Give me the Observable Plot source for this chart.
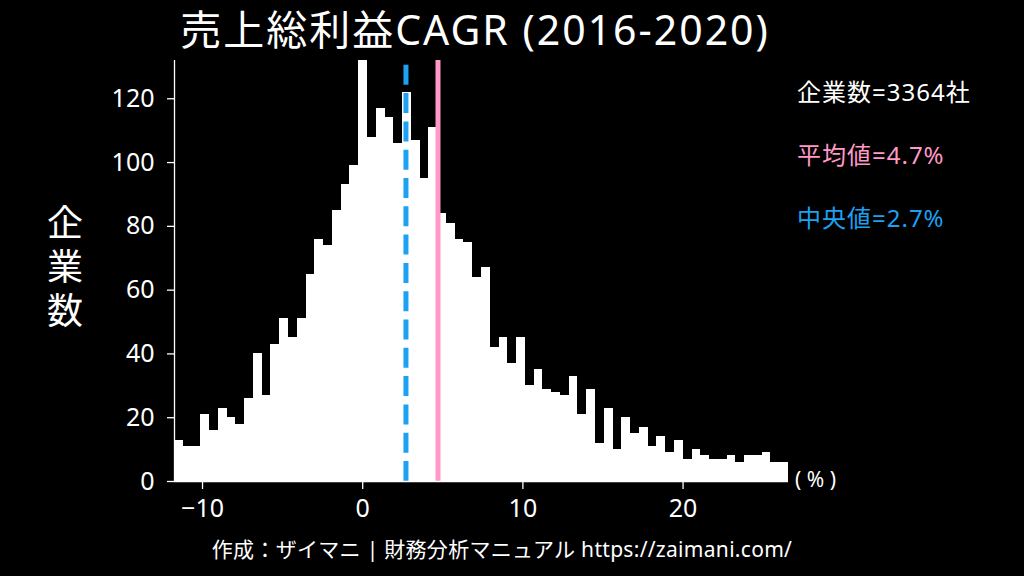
<!DOCTYPE html>
<html><head><meta charset="utf-8">
<script src="https://cdn.jsdelivr.net/npm/d3@7"></script>
<script src="https://cdn.jsdelivr.net/npm/@observablehq/plot@0.6"></script>
<style>
body{margin:0;background:#000;}
#wrap{position:relative;width:1024px;height:576px;background:#000;overflow:hidden;font-family:"Noto Sans","Noto Sans CJK JP",sans-serif;color:#fff;}
#chart{position:absolute;left:0;top:0;}
.t{position:absolute;white-space:nowrap;line-height:1;}
#ylabel{position:absolute;left:47px;top:204px;font-family:"Noto Sans CJK JP",sans-serif;font-size:36px;line-height:1;writing-mode:vertical-rl;text-orientation:upright;letter-spacing:8px;white-space:nowrap;}
</style></head><body>
<div id="wrap">
  <div id="chart"></div>
  <div class="t" id="title" style="left:0;width:950px;text-align:center;top:9px;font-size:41px;letter-spacing:2px;"></div>
  <div id="ylabel"></div>
  <div class="t" id="ann1" style="left:797px;top:80px;font-size:24px;letter-spacing:1px;"></div>
  <div class="t" id="ann2" style="left:797px;top:143px;font-size:24px;letter-spacing:1px;"></div>
  <div class="t" id="ann3" style="left:797px;top:206px;font-size:24px;letter-spacing:1px;"></div>
  <div class="t" id="unit" style="left:795px;top:469px;font-size:21px;"></div>
  <div class="t" id="footer" style="left:0;width:1004px;text-align:center;top:539px;font-size:21px;letter-spacing:0.3px;"></div>
</div>
<script>
// ---- data ----
const titleText = "売上総利益CAGR (2016-2020)";
const yLabelText = "企業数";
const unitText = "( % )";
const footerText = "作成：ザイマニ | 財務分析マニュアル https://zaimani.com/";
const companyCount = 3364;
const meanValue = 4.7;
const medianValue = 2.7;
const binStart = -11.75;
const binWidth = 0.5476;
const counts = [
  13, 11, 11, 21, 16, 23, 20, 18, 26, 40,
  27, 43, 51, 45, 51, 65, 76, 74, 85, 93,
  99, 132, 108, 117, 114, 106, 122, 107, 95, 111,
  84, 81, 76, 75, 64, 67, 42, 45, 37, 45,
  30, 35, 29, 28, 27, 33, 21, 29, 12, 23,
  10, 20, 15, 17, 11, 14, 9, 13, 7, 10,
  8, 7, 7, 8, 6, 8, 8, 9, 6, 6
];
const yTicks = [0, 20, 40, 60, 80, 100, 120];
const xTicks = [-10, 0, 10, 20];
const yMax = 132;
const meanColor = "#ff99c6";
const medianColor = "#1da1f2";

// ---- build ----
const bins = counts.map((c, i) => ({x1: binStart + i * binWidth, x2: binStart + (i + 1) * binWidth, count: c}));
const xMin = binStart, xMax = binStart + counts.length * binWidth;
const fmt = d => d < 0 ? "\u2212" + Math.abs(d) : String(d);

const chart = Plot.plot({
  width: 1024, height: 576,
  marginLeft: 174, marginRight: 236, marginTop: 60, marginBottom: 95,
  style: {background: "transparent", color: "#fff", fontFamily: "'Noto Sans', 'Noto Sans CJK JP', sans-serif"},
  x: {domain: [xMin, xMax]},
  y: {domain: [0, yMax]},
  marks: [
    Plot.rectY(bins, {x1: "x1", x2: "x2", y1: 0, y2: "count", fill: "#fff", inset: 0, shapeRendering: "crispEdges"}),
    Plot.ruleX([meanValue], {y1: 0, y2: yMax, stroke: meanColor, strokeWidth: 5}),
    Plot.ruleX([medianValue], {y1: 0, y2: yMax, stroke: medianColor, strokeWidth: 5, strokeDasharray: "20,8.3"}),
    Plot.ruleX([xMin], {stroke: "#fff", strokeWidth: 1.3}),
    Plot.ruleY([0], {stroke: "#fff", strokeWidth: 1.3}),
    Plot.axisY({ticks: yTicks, tickSize: 7, tickPadding: 13, label: null, fontSize: 25, strokeWidth: 1.3, tickFormat: fmt}),
    Plot.axisX({ticks: xTicks, tickSize: 8, tickPadding: 10, label: null, fontSize: 25, strokeWidth: 1.3, tickFormat: fmt})
  ]
});
document.getElementById("chart").appendChild(chart);

document.getElementById("title").textContent = titleText;
document.getElementById("ylabel").textContent = yLabelText;
const a1 = document.getElementById("ann1");
a1.textContent = `企業数=${companyCount}社`;
const a2 = document.getElementById("ann2");
a2.textContent = `平均値=${meanValue.toFixed(1)}%`; a2.style.color = meanColor;
const a3 = document.getElementById("ann3");
a3.textContent = `中央値=${medianValue.toFixed(1)}%`; a3.style.color = medianColor;
document.getElementById("unit").textContent = unitText;
document.getElementById("footer").textContent = footerText;
</script>
</body></html>
